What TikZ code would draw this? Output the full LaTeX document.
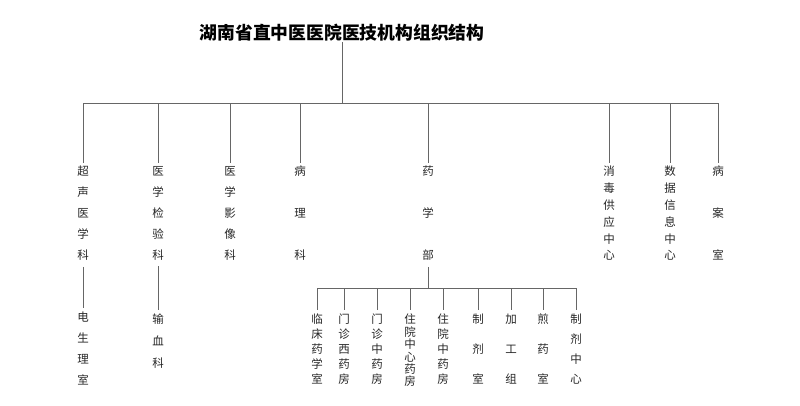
\documentclass[tikz,border=0pt]{standalone}
\usepackage{fontspec}
\newfontfamily\cjk{Noto Sans CJK SC}
\usetikzlibrary{positioning}
\tikzset{
  unit/.style={anchor=north, inner sep=0pt, align=center, text=black!85},
  link/.style={draw=black!60, line width=0.8pt},
}
\newcommand{\vsp}[1]{\fontsize{11.5}{#1}\selectfont}
\begin{document}
\begin{tikzpicture}[x=1pt,y=-1pt,font=\cjk]
  \useasboundingbox (0,0) rectangle (800,405);
  \node (root) [inner sep=0pt, font=\cjk\bfseries\fontsize{17.8}{19}\selectfont] at (342,33) {湖南省直中医医院医技机构组织结构};
  \coordinate (bus) at (342,103);
  % first level
  \node (chaosheng) [unit, font=\cjk\vsp{21}] at (83,166)  {超\\声\\医\\学\\科};
  \node (jianyan)   [unit, font=\cjk\vsp{21}] at (158,166) {医\\学\\检\\验\\科};
  \node (yingxiang) [unit, font=\cjk\vsp{21}] at (230,166) {医\\学\\影\\像\\科};
  \node (bingli)    [unit, font=\cjk\vsp{42}] at (300,166) {病\\理\\科};
  \node (yaoxue)    [unit, font=\cjk\vsp{42}] at (428,166) {药\\学\\部};
  \node (xiaodu)    [unit, font=\cjk\vsp{16.8}] at (609,166) {消\\毒\\供\\应\\中\\心};
  \node (shuju)     [unit, font=\cjk\vsp{16.8}] at (670,166) {数\\据\\信\\息\\中\\心};
  \node (bingan)    [unit, font=\cjk\vsp{42}] at (718,166) {病\\案\\室};
  \draw[link] (root.south -| bus) -- (bus);
  \draw[link] (chaosheng.north |- bus) -- (bingan.north |- bus);
  \foreach \n in {chaosheng,jianyan,yingxiang,bingli,yaoxue,xiaodu,shuju,bingan}
    \draw[link] (\n.north |- bus) -- ([yshift=3pt]\n.north);
  % second level
  \node (dian)  [unit, font=\cjk\vsp{21}] at (83,312)  {电\\生\\理\\室};
  \node (shuxue)[unit, font=\cjk\vsp{22}] at (158,314) {输\\血\\科};
  \draw[link] ([yshift=-6pt]chaosheng.south) -- ([yshift=4pt]dian.north);
  \draw[link] ([yshift=-6pt]jianyan.south) -- ([yshift=4pt]shuxue.north);
  % pharmacy
  \coordinate (pbus) at (428,288);
  \node (linchuang) [unit, font=\cjk\vsp{15}] at (317,314) {临\\床\\药\\学\\室};
  \node (mzxiyao)   [unit, font=\cjk\vsp{15}] at (344,314) {门\\诊\\西\\药\\房};
  \node (mzzhong)   [unit, font=\cjk\vsp{15}] at (377,314) {门\\诊\\中\\药\\房};
  \node (zyzhongxin)[unit, font=\cjk\vsp{12.4}] at (410,314) {住\\院\\中\\心\\药\\房};
  \node (zyzhong)   [unit, font=\cjk\vsp{15}] at (443,314) {住\\院\\中\\药\\房};
  \node (zhiji)     [unit, font=\cjk\vsp{30}] at (478,314) {制\\剂\\室};
  \node (jiagong)   [unit, font=\cjk\vsp{30}] at (511,314) {加\\工\\组};
  \node (jianyao)   [unit, font=\cjk\vsp{30}] at (543,314) {煎\\药\\室};
  \node (zhijizx)   [unit, font=\cjk\vsp{20}] at (576,314) {制\\剂\\中\\心};
  \draw[link] ([yshift=-6pt]yaoxue.south) -- (pbus);
  \draw[link] (linchuang.north |- pbus) -- (zhijizx.north |- pbus);
  \foreach \n in {linchuang,mzxiyao,mzzhong,zyzhongxin,zyzhong,zhiji,jiagong,jianyao,zhijizx}
    \draw[link] (\n.north |- pbus) -- ([yshift=4pt]\n.north);
\end{tikzpicture}
\end{document}
